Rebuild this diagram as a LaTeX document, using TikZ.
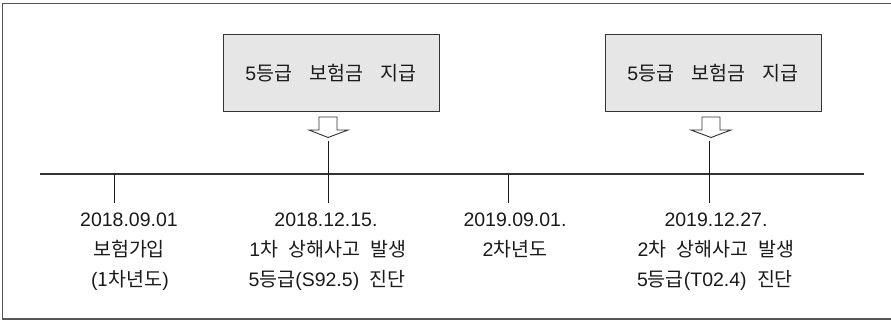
\documentclass[tikz,border=0pt]{standalone}
\usepackage{fontspec}
\setmainfont[WordSpace=1.9]{Liberation Sans}
\newfontfamily\latb[WordSpace=3.2]{Liberation Sans}
\newfontfamily\kr{Noto Sans CJK KR}
\definecolor{ink}{HTML}{1A1A1A}
\definecolor{boxfill}{HTML}{E6E6E6}
\definecolor{linegray}{HTML}{333333}
\definecolor{framegray}{HTML}{555555}
\tikzset{
  paybox/.style={draw=linegray, line width=1pt, fill=boxfill, minimum width=216pt, minimum height=77pt, inner sep=0pt, text=ink, font=\fontsize{19.5pt}{22pt}\latb},
  lbl/.style={anchor=base, inner sep=0pt, text=ink, font=\fontsize{19.5pt}{22pt}\selectfont},
  hollow/.style={draw=linegray, line width=0.9pt, fill=white, line join=miter},
  tick/.style={draw=ink, line width=0.9pt},
  axis/.style={draw=linegray, line width=1.6pt},
  frame/.style={draw=framegray, line width=1.3pt}
}
\begin{document}
\begin{tikzpicture}[x=1pt,y=-1pt]
\useasboundingbox (0,0) rectangle (891,320);
\draw[frame] (891,3.5) -- (2.5,3.5) -- (2.5,319) -- (891,319);

% boxes
\node[paybox] (b1) at (331,73.5) {5{\kr 등급} {\kr 보험금} {\kr 지급}};
\node[paybox] (b2) at (713,73) {5{\kr 등급} {\kr 보험금} {\kr 지급}};

% hollow arrows
\draw[hollow] (319,117) -- (337,117) -- (337,130) -- (348,130) -- (328,137.5) -- (309,130) -- (319,130) -- cycle;
\draw[hollow] (702,117) -- (720,117) -- (720,130) -- (731,130) -- (711,137.5) -- (691,130) -- (702,130) -- cycle;

% timeline
\coordinate (L) at (40,174);
\coordinate (R) at (864,174);
\draw[axis] (L) -- (R);

% ticks and connectors
\coordinate (a1) at (328,141); \coordinate (e1) at (328,203);
\coordinate (a2) at (709,141); \coordinate (e2) at (709,203);
\coordinate (s1) at (114,174); \coordinate (f1) at (114,203);
\coordinate (s3) at (508,174); \coordinate (f3) at (508,203);
\draw[tick] (a1) -- (e1);
\draw[tick] (a2) -- (e2);
\draw[tick] (s1) -- (f1);
\draw[tick] (s3) -- (f3);

% labels
\node[lbl] (t1a) at (129,227) {2018.09.01};
\node[lbl] (t1b) at (129,257) {\kr 보험가입};
\node[lbl] (t1c) at (130,287) {({\kr 1차년도})};

\node[lbl] (t2a) at (326,227) {2018.12.15.};
\node[lbl] (t2b) at (328,257) {1{\kr 차} {\kr 상해사고} {\kr 발생}};
\node[lbl] (t2c) at (327,287) {5{\kr 등급}(S92.5) {\kr 진단}};

\node[lbl] (t3a) at (515,227) {2019.09.01.};
\node[lbl] (t3b) at (515,257) {2{\kr 차년도}};

\node[lbl] (t4a) at (716,227) {2019.12.27.};
\node[lbl] (t4b) at (716,257) {2{\kr 차} {\kr 상해사고} {\kr 발생}};
\node[lbl] (t4c) at (715,287) {5{\kr 등급}(T02.4) {\kr 진단}};
\end{tikzpicture}
\end{document}
